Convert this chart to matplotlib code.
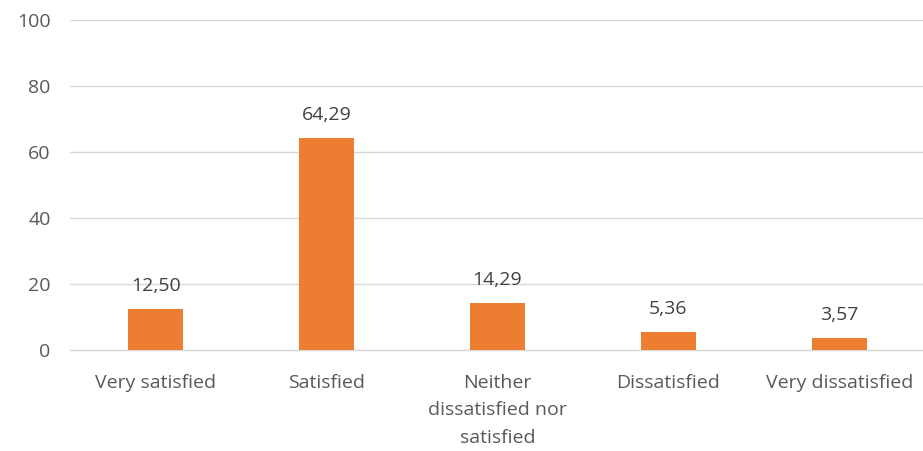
import matplotlib
matplotlib.use("Agg")
import matplotlib.pyplot as plt

categories = ["Very satisfied", "Satisfied", "Neither\ndissatisfied nor\nsatisfied", "Dissatisfied", "Very dissatisfied"]
values = [12.50, 64.29, 14.29, 5.36, 3.57]
labels = ["12,50", "64,29", "14,29", "5,36", "3,57"]
yticks = [0, 20, 40, 60, 80, 100]

plt.rcParams['font.family'] = ['Open Sans', 'DejaVu Sans']
txt = '#595959'
fs = 14

fig = plt.figure(figsize=(9.23, 4.51), dpi=100)
ax = fig.add_axes([0.076, 0.224, 0.926, 0.732])
x = range(len(categories))
bars = ax.bar(x, values, width=0.32, color='#ED7D31', zorder=3)
for xi, v, l in zip(x, values, labels):
    ax.annotate(l, (xi, v), xytext=(0, 10), textcoords='offset points',
                ha='center', va='bottom', fontsize=fs, color='#404040')
ax.set_xlim(-0.5, len(categories) - 0.5)
ax.set_ylim(0, 100)
ax.set_yticks(yticks)
ax.set_yticklabels([str(t) for t in yticks], fontsize=fs, color=txt)
ax.set_xticks(list(x))
ax.set_xticklabels(categories, fontsize=fs, color=txt, linespacing=1.7)
ax.tick_params(axis='both', length=0)
ax.tick_params(axis='y', pad=14)
ax.tick_params(axis='x', pad=17)
ax.grid(axis='y', color='#d9d9d9', linewidth=1, zorder=0)
for s in ['top', 'right', 'left']:
    ax.spines[s].set_visible(False)
ax.spines['bottom'].set_color('#d9d9d9')
ax.spines['bottom'].set_linewidth(1)
fig.savefig('out.png', dpi=100)
